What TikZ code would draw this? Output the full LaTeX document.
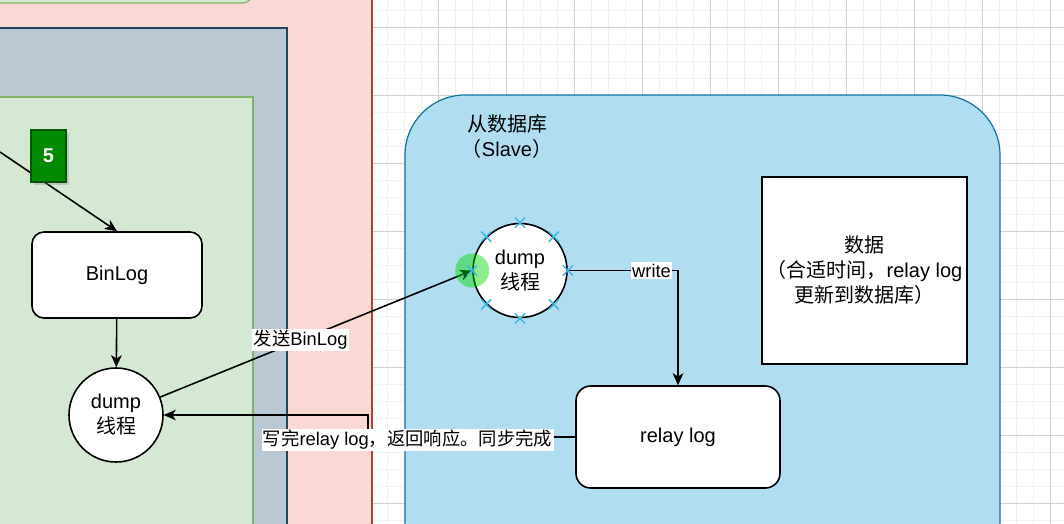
\documentclass[tikz,border=0pt]{standalone}
\usepackage{fontspec}
\setmainfont{Liberation Sans}
\newfontfamily\cjk{Noto Sans CJK SC}
\usetikzlibrary{arrows.meta,shadows}

\definecolor{pinkfill}{HTML}{FAD9D5}
\definecolor{pinkline}{HTML}{AE4132}
\definecolor{greyfill}{HTML}{BAC8D3}
\definecolor{greyline}{HTML}{23445D}
\definecolor{greenfill}{HTML}{D5E8D4}
\definecolor{greenline}{HTML}{82B366}
\definecolor{bluefill}{HTML}{B1DDF0}
\definecolor{blueline}{HTML}{10739E}
\definecolor{tagfill}{HTML}{008A00}
\definecolor{tagline}{HTML}{005700}
\definecolor{handle}{HTML}{3FB4EA}

\tikzset{
  txt/.style={font=\fontsize{15}{18.75}\selectfont,align=center},
  box/.style={txt,draw,fill=white,line width=1.2pt,inner sep=0pt},
  thread/.style={box,circle,minimum size=70.5pt},
  lbl/.style={font=\fontsize{13.75}{16.5}\selectfont,fill=white,inner sep=1pt},
  region/.style={line width=0.9pt}
}

\begin{document}
\begin{tikzpicture}[x=0.75pt,y=-0.75pt,>={Stealth[length=9pt,width=8pt,inset=2.5pt]},line width=1.2pt]

    \clip (0,0) rectangle (1064,524);
    \fill[white] (0,0) rectangle (1064,524);

    % grid
    \foreach \x in {13,30,...,1064}
        \draw[line width=0.6pt,black!6] (\x,0) -- (\x,524);
    \foreach \y in {10,27,...,524}
        \draw[line width=0.6pt,black!6] (0,\y) -- (1064,\y);
    \foreach \x in {370,438,...,1064}
        \draw[line width=0.7pt,black!18] (\x,0) -- (\x,524);
    \foreach \y in {27,95,...,524}
        \draw[line width=0.7pt,black!18] (0,\y) -- (1064,\y);

    % master side
    \draw[region,fill=pinkfill,draw=pinkline] (-10,-10) rectangle (372,540);
    \draw[region,fill=greenfill,draw=greenline,rounded corners=8pt] (-10,-40) rectangle (253,3);
    \draw[region,fill=greyfill,draw=greyline] (-10,28) rectangle (287,540);
    \draw[region,fill=greenfill,draw=greenline] (-10,97) rectangle (253,540);

    % slave side
    \draw[region,fill=bluefill,draw=blueline,rounded corners=45pt] (405,95) rectangle (1000,600);
    \node[txt] (slave) at (507,137) {{\cjk 从数据库}\\{\cjk （}Slave{\cjk ）}};

    \node[box,rounded corners=9pt,minimum width=127.5pt,minimum height=64.5pt] (binlog) at (117,275) {BinLog};
    \node[thread] (ldump) at (116,415) {dump\\{\cjk 线程}};
    \node[thread] (rdump) at (520,270.5) {dump\\{\cjk 线程}};
    \node[box,rounded corners=11pt,minimum width=153pt,minimum height=76.5pt] (relay) at (678,437) {relay log};
    \node[box,minimum width=153.75pt,minimum height=140.25pt] (data) at (864.5,270.5)
        {{\cjk 数据}\\{\cjk （合适时间，}relay log\\{\cjk 更新到数据库）}};

    % connectors
    \coordinate (from5) at (0,152);
    \draw[->] (from5) -- (binlog.north);
    \draw[->] (binlog) -- (ldump);
    \draw[->] (ldump) -- node[lbl,pos=0.45] {{\cjk 发送}BinLog} (rdump.west);
    \draw[->] (rdump.east) -| node[lbl,pos=0.38] {write} (relay.north);
    \draw[->] (relay.west) -- node[lbl,pos=0.81,yshift=-2pt] {{\cjk 写完}relay log{\cjk ，返回响应。同步完成}} ++(-207,0) |- (ldump.east);

    \node[draw=tagline,fill=tagfill,text=white,line width=0.9pt,minimum width=26.25pt,minimum height=39pt,inner sep=0pt,
          font=\fontsize{15}{18}\selectfont\bfseries,drop shadow={opacity=0.3,shadow xshift=2pt,shadow yshift=-2pt}] (five) at (48.5,156) {5};

    % selection handles
    \fill[green!85!black,opacity=0.45] (rdump.west) circle (12.75pt);
    \foreach \a in {0,45,...,315}
        \draw[handle,line width=1.1pt] (rdump.\a) ++(-5,-5) -- ++(10,10) ++(-10,0) -- ++(10,-10);

\end{tikzpicture}
\end{document}
